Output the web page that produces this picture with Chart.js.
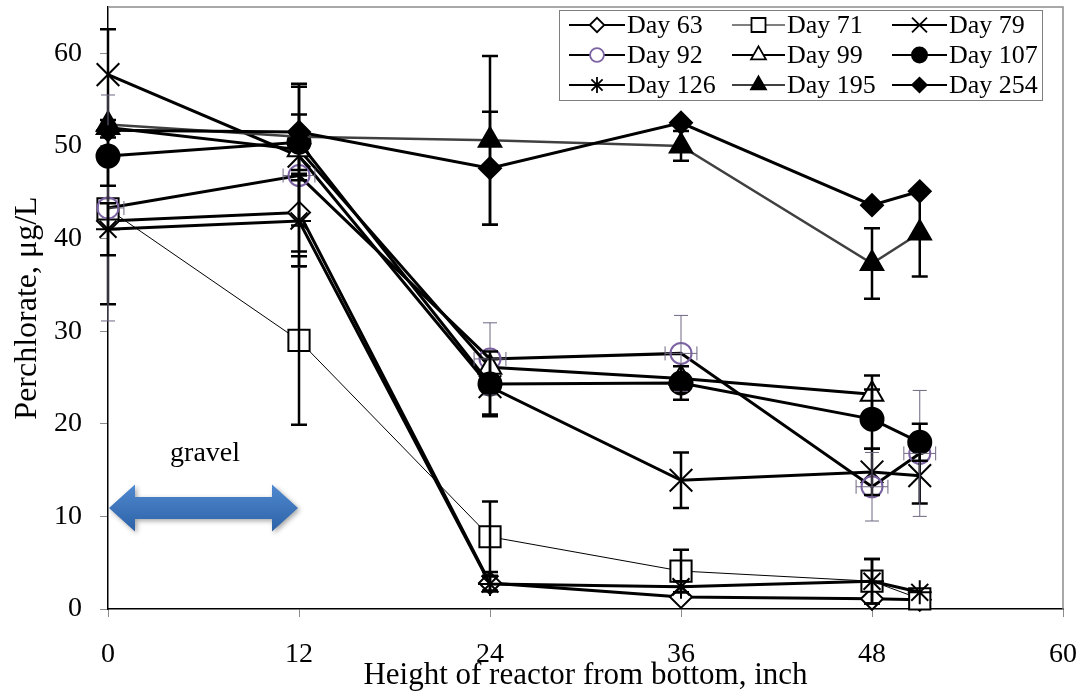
<!DOCTYPE html>
<html>
<head>
<meta charset="utf-8">
<script src="https://cdn.jsdelivr.net/npm/chart.js@4.4.1/dist/chart.umd.min.js"></script>
<style>
    html, body { margin: 0; padding: 0; background: #fff; }
    #wrap { width: 1083px; height: 694px; }
</style>
</head>
<body>
<div id="wrap"><canvas id="chart" width="1083" height="694"></canvas></div>
<script>
// ---------------------------------------------------------------------------
// Data
// ---------------------------------------------------------------------------

const heights = [0, 12, 24, 36, 48, 51];

const day63 = [41.9, 42.8, 2.8, 1.3, 1.1, 1.0];
const day71 = [43.2, 29.0, 7.8, 4.1, 3.0, 1.1];
const day79 = [57.7, 48.9, 24.0, 13.9, 14.8, 14.4];
const day92 = [43.3, 46.8, 27.0, 27.6, 13.2, 16.8];
const day99 = [52.0, 49.6, 26.1, 24.9, 23.2, null];
const day107 = [48.9, 50.4, 24.3, 24.4, 20.5, 18.0];
const day126 = [41.0, 41.9, 2.7, 2.4, 3.0, 1.8];
const day195 = [52.3, 51.0, 50.6, 50.0, 37.3, 40.6];
const day254 = [51.7, 51.5, 47.6, 52.5, 43.6, 45.1];

// symmetric y error bars (null = none shown)
const day63Err = [9.0, 4.2, 0.8, null, null, null];
const day71Err = [null, 9.1, 3.8, 2.3, 2.4, null];
const day79Err = [4.9, 7.5, 3.0, 3.0, 2.5, 3.0];
const day92Err = [12.2, 9.9, 3.9, 4.1, 3.7, 6.8];
const day99Err = [null, null, null, null, 2.0, null];
const day107Err = [3.2, 3.0, 3.5, 1.8, 3.2, 2.0];
const day126Err = [2.8, 4.9, 0.8, 0.6, 2.4, null];
const day195Err = [null, null, 9.1, 1.6, 3.8, 4.7];
const day254Err = [null, 5.2, 6.1, null, null, null];

// x error bars (only Day 92 has them)
const day92XErr = [1, 1, 1, 1, 1, 1];

const xTicks = [0, 12, 24, 36, 48, 60];
const yTicks = [0, 10, 20, 30, 40, 50, 60];

// ---------------------------------------------------------------------------
// Styles
// ---------------------------------------------------------------------------

const FONT = '"Liberation Serif", "Times New Roman", serif';
const PURPLE = '#7b62a3';

const series = [
    { label: 'Day 63', values: day63, err: day63Err, marker: 'rectRot', r: 11, fill: '#fff', edge: '#000', line: '#000', lw: 3 },
    { label: 'Day 71', values: day71, err: day71Err, marker: 'rect', r: 15, fill: '#fff', edge: '#000', line: '#000', lw: 1 },
    { label: 'Day 79', values: day79, err: day79Err, marker: 'crossRot', r: 16, fill: '#000', edge: '#000', line: '#000', lw: 3 },
    { label: 'Day 92', values: day92, err: day92Err, xErr: day92XErr, marker: 'circle', r: 10.5, fill: 'rgba(255,255,255,0)', edge: PURPLE, line: '#000', lw: 3, errColor: '#6e6680', errWidth: 1 },
    { label: 'Day 99', values: day99, err: day99Err, marker: 'triangle', r: 13, fill: '#fff', edge: '#000', line: '#000', lw: 3 },
    { label: 'Day 107', values: day107, err: day107Err, marker: 'circle', r: 11.5, fill: '#000', edge: '#000', line: '#000', lw: 3 },
    { label: 'Day 126', values: day126, err: day126Err, marker: 'star', r: 12, fill: '#000', edge: '#000', line: '#000', lw: 3 },
    { label: 'Day 195', values: day195, err: day195Err, marker: 'triangle', r: 13, fill: '#000', edge: '#000', line: '#404040', lw: 2.5 },
    { label: 'Day 254', values: day254, err: day254Err, marker: 'rectRot', r: 11, fill: '#000', edge: '#000', line: '#000', lw: 3 }
];

const datasets = series.map((s, i) => ({
    label: s.label,
    data: heights.map((x, k) => ({ x: x, y: s.values[k] })).filter(p => p.y !== null),
    errY: heights.map((x, k) => s.values[k] === null ? null : s.err[k]),
    errX: s.xErr || null,
    errColor: s.errColor || '#000',
    errWidth: s.errWidth || 2.5,
    showLine: true,
    borderColor: s.line,
    borderWidth: s.lw,
    tension: 0,
    pointStyle: s.marker,
    pointRadius: s.r,
    pointBackgroundColor: s.fill,
    pointBorderColor: s.edge,
    pointBorderWidth: 2,
    clip: false,
    order: series.length - i
}));

// ---------------------------------------------------------------------------
// Plugins
// ---------------------------------------------------------------------------

const plotFrame = {
    id: 'plotFrame',
    beforeDatasetsDraw(chart) {
        const { ctx, chartArea: a } = chart;
        ctx.save();
        ctx.strokeStyle = '#8c8c8c';
        ctx.lineWidth = 1.5;
        ctx.beginPath();
        ctx.moveTo(a.left, a.top);
        ctx.lineTo(a.right, a.top);
        ctx.lineTo(a.right, a.bottom);
        ctx.stroke();
        ctx.restore();
    }
};

const gravelArrow = {
    id: 'gravelArrow',
    beforeDatasetsDraw(chart) {
        const { ctx, scales } = chart;
        const x0 = scales.x.getPixelForValue(0) + 1;
        const x1 = scales.x.getPixelForValue(12) - 1;
        const y = scales.y.getPixelForValue(10.9);
        const shaft = 11, head = 23.5, headLen = 26;
        ctx.save();
        ctx.shadowColor = 'rgba(0,0,0,0.35)';
        ctx.shadowBlur = 5;
        ctx.shadowOffsetX = 2;
        ctx.shadowOffsetY = 2;
        const g = ctx.createLinearGradient(0, y - head, 0, y + head);
        g.addColorStop(0, '#5089d0');
        g.addColorStop(1, '#2c61a6');
        ctx.fillStyle = g;
        ctx.beginPath();
        ctx.moveTo(x0, y);
        ctx.lineTo(x0 + headLen, y - head);
        ctx.lineTo(x0 + headLen, y - shaft);
        ctx.lineTo(x1 - headLen, y - shaft);
        ctx.lineTo(x1 - headLen, y - head);
        ctx.lineTo(x1, y);
        ctx.lineTo(x1 - headLen, y + head);
        ctx.lineTo(x1 - headLen, y + shaft);
        ctx.lineTo(x0 + headLen, y + shaft);
        ctx.lineTo(x0 + headLen, y + head);
        ctx.closePath();
        ctx.fill();
        ctx.restore();

        ctx.save();
        ctx.fillStyle = '#000';
        ctx.font = '28px ' + FONT;
        ctx.textAlign = 'center';
        ctx.textBaseline = 'middle';
        ctx.fillText('gravel', scales.x.getPixelForValue(6.1), scales.y.getPixelForValue(16.8));
        ctx.restore();
    }
};

const errorBars = {
    id: 'errorBars',
    afterDatasetsDraw(chart) {
        const { ctx, scales } = chart;
        ctx.save();
        chart.data.datasets.forEach(ds => {
            ctx.strokeStyle = ds.errColor;
            ctx.lineWidth = ds.errWidth;
            const cap = ds.errWidth > 1.5 ? 8 : 7;
            heights.forEach((h, k) => {
                const v = ds.errY[k];
                const p = ds.data.find(d => d.x === h);
                if (!p) return;
                const px = scales.x.getPixelForValue(h);
                const py = scales.y.getPixelForValue(p.y);
                ctx.beginPath();
                if (v !== null && v !== undefined) {
                    const yt = scales.y.getPixelForValue(p.y + v);
                    const yb = scales.y.getPixelForValue(Math.max(0, p.y - v));
                    ctx.moveTo(px, yt); ctx.lineTo(px, yb);
                    ctx.moveTo(px - cap, yt); ctx.lineTo(px + cap, yt);
                    ctx.moveTo(px - cap, yb); ctx.lineTo(px + cap, yb);
                }
                if (ds.errX && ds.errX[k] !== null) {
                    const xl = scales.x.getPixelForValue(Math.max(0, h - ds.errX[k]));
                    const xr = scales.x.getPixelForValue(h + ds.errX[k]);
                    ctx.moveTo(xl, py); ctx.lineTo(xr, py);
                    ctx.moveTo(xl, py - cap); ctx.lineTo(xl, py + cap);
                    ctx.moveTo(xr, py - cap); ctx.lineTo(xr, py + cap);
                }
                ctx.stroke();
            });
        });
        ctx.restore();
    }
};

function drawMarker(ctx, style, r, x, y, fill, edge) {
    if (Chart.helpers && Chart.helpers.drawPoint) {
        ctx.fillStyle = fill;
        ctx.strokeStyle = edge;
        ctx.lineWidth = 1.8;
        Chart.helpers.drawPoint(ctx, { pointStyle: style, radius: r, rotation: 0, borderWidth: 1.8 }, x, y);
    } else {
        ctx.beginPath();
        ctx.arc(x, y, r, 0, Math.PI * 2);
        ctx.fillStyle = fill;
        ctx.fill();
        ctx.strokeStyle = edge;
        ctx.stroke();
    }
}

const boxLegend = {
    id: 'boxLegend',
    afterDraw(chart) {
        const { ctx, chartArea: a } = chart;
        const left = a.right - 504, top = a.top + 3;
        const colLine = [10, 173, 333];
        const lineLen = [56, 53, 55];
        const rowY = [15, 45, 75];
        ctx.save();
        ctx.fillStyle = '#fff';
        ctx.fillRect(left, top, 483, 90);
        ctx.strokeStyle = '#7f7f7f';
        ctx.lineWidth = 1;
        ctx.strokeRect(left + 0.5, top + 0.5, 483, 90);
        series.forEach((s, i) => {
            const col = i % 3, row = Math.floor(i / 3);
            const x0 = left + colLine[col];
            const x1 = x0 + lineLen[col];
            const y = top + rowY[row];
            ctx.strokeStyle = s.line;
            ctx.lineWidth = s.lw === 1 ? 1 : 2.2;
            ctx.beginPath();
            ctx.moveTo(x0, y);
            ctx.lineTo(x1, y);
            ctx.stroke();
            drawMarker(ctx, s.marker, s.r * 0.66, (x0 + x1) / 2, y, s.fill === 'rgba(255,255,255,0)' ? '#fff' : s.fill, s.edge);
            ctx.fillStyle = '#000';
            ctx.font = '26px ' + FONT;
            ctx.textAlign = 'left';
            ctx.textBaseline = 'middle';
            ctx.fillText(s.label, x1 + 2, y + 1);
        });
        ctx.restore();
    }
};

// ---------------------------------------------------------------------------
// Chart
// ---------------------------------------------------------------------------

new Chart(document.getElementById('chart'), {
    type: 'scatter',
    data: { datasets: datasets },
    plugins: [plotFrame, gravelArrow, errorBars, boxLegend],
    options: {
        responsive: false,
        animation: false,
        events: [],
        layout: { autoPadding: false, padding: { left: 0, right: 20, top: 7, bottom: 0 } },
        plugins: {
            legend: { display: false },
            tooltip: { enabled: false }
        },
        scales: {
            x: {
                type: 'linear',
                min: 0,
                max: 60,
                afterBuildTicks(scale) {
                    scale.ticks = xTicks.map(v => ({ value: v }));
                },
                afterFit(scale) {
                    scale.height = 85;
                    scale.paddingLeft = 0;
                    scale.paddingRight = 0;
                },
                ticks: {
                    color: '#000',
                    padding: 21,
                    font: { family: FONT, size: 28 },
                    maxRotation: 0
                },
                grid: { drawOnChartArea: false, drawTicks: true, tickLength: 8, color: '#8c8c8c', lineWidth: 1 },
                border: { display: true, color: '#000', width: 1.5 },
                title: {
                    display: true,
                    text: 'Height of reactor from bottom, inch',
                    color: '#000',
                    font: { family: FONT, size: 31 },
                    padding: { top: 0, bottom: 0 }
                }
            },
            y: {
                type: 'linear',
                min: 0,
                max: 65,
                afterBuildTicks(scale) {
                    scale.ticks = yTicks.map(v => ({ value: v }));
                },
                afterFit(scale) {
                    scale.width = 108;
                    scale.paddingTop = 0;
                    scale.paddingBottom = 0;
                },
                ticks: {
                    color: '#000',
                    padding: 18,
                    font: { family: FONT, size: 28 }
                },
                grid: { drawOnChartArea: false, drawTicks: true, tickLength: 8, color: '#8c8c8c', lineWidth: 1 },
                border: { display: true, color: '#000', width: 1.5 },
                title: {
                    display: true,
                    text: 'Perchlorate, μg/L',
                    color: '#000',
                    font: { family: FONT, size: 32 },
                    padding: { top: 8, bottom: 0 }
                }
            }
        }
    }
});
</script>
</body>
</html>
